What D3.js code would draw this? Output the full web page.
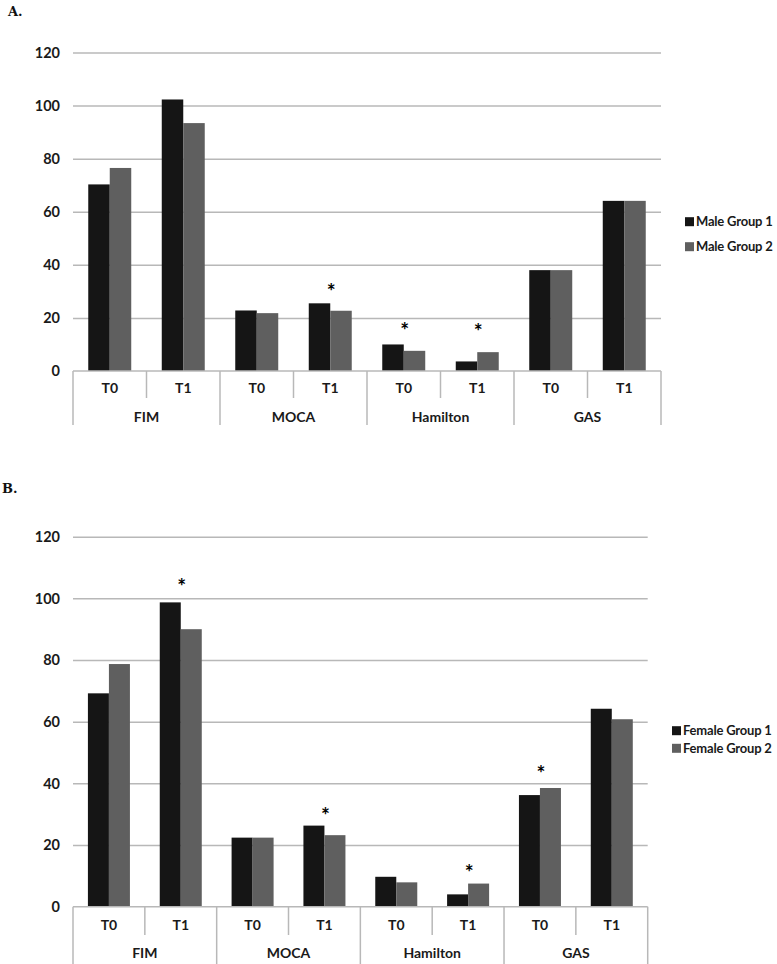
<html>
<head>
  <script src="https://d3js.org/d3.v7.min.js"></script>
  <style>
    body { margin: 0; background: #fff; }
    text { font-family: Lato, "Open Sans", sans-serif; }
  </style>
</head>
<body>
<div id="chart"></div>
<script>
// categories
const measures = ["FIM", "MOCA", "Hamilton", "GAS"];
const times = ["T0", "T1"];
const yTicks = [0, 20, 40, 60, 80, 100, 120];

// panel A values (FIM T0, FIM T1, MOCA T0, MOCA T1, Hamilton T0, Hamilton T1, GAS T0, GAS T1)
const maleGroup1 = [70.3, 102.3, 22.8, 25.5, 10.0, 3.6, 38.0, 64.1];
const maleGroup2 = [76.5, 93.4, 21.8, 22.7, 7.6, 7.1, 38.0, 64.1];
const maleStarCells = [3, 4, 5];
const maleStarAt = [31.7, 17.0, 16.3];

// panel B values
const femaleGroup1 = [69.2, 98.7, 22.4, 26.3, 9.7, 4.0, 36.2, 64.2];
const femaleGroup2 = [78.7, 90.0, 22.4, 23.2, 7.9, 7.5, 38.5, 60.8];
const femaleStarCells = [1, 3, 5, 6];
const femaleStarAt = [105.1, 31.0, 12.6, 44.7];

const colors = ["#151515", "#5f5f5f"];
const gridColor = "#b8b8b8";

const width = 777, height = 964;
const svg = d3.select("#chart").append("svg")
  .attr("width", width)
  .attr("height", height);

function drawPanel(o) {
  const g = svg.append("g");

  // cells = measure x time
  const cells = [];
  measures.forEach(m => times.forEach(t => cells.push(m + "|" + t)));

  const x = d3.scaleBand().domain(d3.range(cells.length)).range([o.left, o.right]).padding(0);
  const xInner = d3.scaleBand().domain([0, 1]).range([0, x.bandwidth()])
    .paddingInner(0).paddingOuter(0.71);
  const y = d3.scaleLinear().domain([0, 120]).range([o.bottom, o.top]);

  // title
  g.append("text")
    .attr("x", o.titleX).attr("y", o.titleY)
    .style("font-family", "'DejaVu Serif', serif")
    .attr("font-weight", "bold")
    .attr("font-size", 13)
    .attr("fill", "#111")
    .text(o.title);

  // gridlines
  g.append("g")
    .attr("transform", `translate(${o.left},0)`)
    .call(d3.axisLeft(y).tickValues(yTicks.slice(1)).tickSize(-(o.right - o.left)).tickFormat(""))
    .call(a => a.select(".domain").remove())
    .call(a => a.selectAll("line").attr("stroke", gridColor).attr("stroke-width", 1.5));

  // y tick labels
  g.append("g")
    .attr("transform", `translate(${o.left - 13},0)`)
    .call(d3.axisLeft(y).tickValues(yTicks).tickSize(0).tickPadding(0))
    .call(a => a.select(".domain").remove())
    .call(a => a.selectAll("text")
      .attr("font-size", 14.5).attr("font-weight", "bold").attr("fill", "#1a1a1a")
      .style("font-family", "Lato, sans-serif"));

  // bars
  const series = [o.g1, o.g2];
  series.forEach((vals, si) => {
    g.append("g").attr("fill", colors[si])
      .selectAll("rect")
      .data(vals)
      .join("rect")
        .attr("x", (d, i) => x(i) + xInner(si))
        .attr("y", d => y(d))
        .attr("width", xInner.bandwidth())
        .attr("height", d => y(0) - y(d));
  });

  // axis baseline
  g.append("line")
    .attr("x1", o.left).attr("x2", o.right)
    .attr("y1", y(0)).attr("y2", y(0))
    .attr("stroke", gridColor).attr("stroke-width", 1.5);

  // cell separators
  g.append("g").selectAll("line")
    .data(d3.range(cells.length + 1))
    .join("line")
      .attr("x1", i => i < cells.length ? x(i) : o.right)
      .attr("x2", i => i < cells.length ? x(i) : o.right)
      .attr("y1", y(0))
      .attr("y2", i => i % 2 === 0 ? o.groupSepBottom : o.cellSepBottom)
      .attr("stroke", gridColor).attr("stroke-width", 1.5);

  // time labels
  g.append("g").selectAll("text")
    .data(cells)
    .join("text")
      .attr("x", (d, i) => x(i) + x.bandwidth() / 2)
      .attr("y", o.timeLabelY)
      .attr("dy", "0.35em")
      .attr("text-anchor", "middle")
      .attr("font-size", 14).attr("font-weight", "bold").attr("fill", "#1a1a1a")
      .text(d => d.split("|")[1]);

  // measure labels
  g.append("g").selectAll("text")
    .data(measures)
    .join("text")
      .attr("x", (d, i) => x(i * 2) + x.bandwidth())
      .attr("y", o.measureLabelY)
      .attr("dy", "0.35em")
      .attr("text-anchor", "middle")
      .attr("font-size", 14).attr("font-weight", "bold").attr("fill", "#1a1a1a")
      .text(d => d);

  // significance stars
  g.append("g").selectAll("text")
    .data(o.starCells)
    .join("text")
      .attr("x", d => x(d) + x.bandwidth() / 2 + 1)
      .attr("y", (d, i) => y(o.starAt[i]))
      .attr("dy", "0.56em")
      .attr("text-anchor", "middle")
      .attr("font-size", 21).attr("font-weight", "bold").attr("fill", "#000")
      .text("*");

  // legend
  const leg = g.append("g").selectAll("g")
    .data(o.legend)
    .join("g")
      .attr("transform", (d, i) => `translate(${o.legendX},${o.legendY[i]})`);
  leg.append("rect")
    .attr("x", 0).attr("y", -4.5)
    .attr("width", 9).attr("height", 9)
    .attr("fill", (d, i) => colors[i]);
  leg.append("text")
    .attr("x", 11).attr("y", 0).attr("dy", "0.35em")
    .attr("font-size", 13).attr("font-weight", "bold").attr("fill", "#1a1a1a")
    .attr("letter-spacing", -0.2)
    .text(d => d);
}

drawPanel({
  title: "A.", titleX: 8, titleY: 16,
  left: 73, right: 661, top: 52.5, bottom: 371,
  timeLabelY: 388, measureLabelY: 417,
  cellSepBottom: 398, groupSepBottom: 425,
  g1: maleGroup1, g2: maleGroup2,
  starCells: maleStarCells, starAt: maleStarAt,
  legend: ["Male Group 1", "Male Group 2"],
  legendX: 685, legendY: [221.7, 246.7]
});

drawPanel({
  title: "B.", titleX: 2, titleY: 493,
  left: 73, right: 647.7, top: 536.7, bottom: 906.7,
  timeLabelY: 925, measureLabelY: 952.7,
  cellSepBottom: 935, groupSepBottom: 964,
  g1: femaleGroup1, g2: femaleGroup2,
  starCells: femaleStarCells, starAt: femaleStarAt,
  legend: ["Female Group 1", "Female Group 2"],
  legendX: 672, legendY: [730.7, 748.3]
});
</script>
</body>
</html>
